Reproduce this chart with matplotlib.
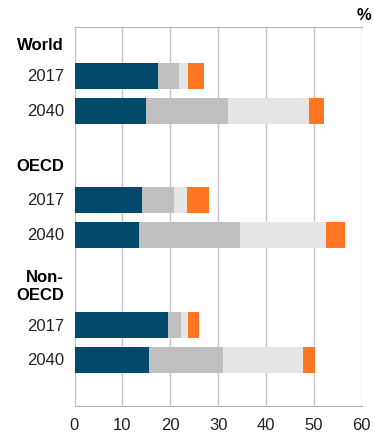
import matplotlib.pyplot as plt

plt.rcParams['font.family'] = ['Liberation Sans', 'DejaVu Sans']

# share by category, in %
regions = ['World', 'OECD', 'Non-\nOECD']
years = ['2017', '2040']
dark = [[17.4, 14.9], [14.1, 13.4], [19.5, 15.5]]
mid = [[4.4, 17.2], [6.7, 21.2], [2.7, 15.5]]
light = [[1.9, 16.9], [2.7, 17.9], [1.5, 16.7]]
orange = [[3.3, 3.1], [4.6, 4.0], [2.3, 2.5]]

colors = ['#00496a', '#bfbfbf', '#e5e5e5', '#ff7521']

fig = plt.figure(figsize=(3.74, 4.39), dpi=100)
ax = fig.add_axes([74.5 / 374, 1 - 407 / 439, 287.2 / 374, 379 / 439])

group_base = [0.0, 3.44, 6.92]
year_step = 0.97
label_off = [-0.86, -0.94, -1.1]

for g, region in enumerate(regions):
    for j, yr in enumerate(years):
        y = group_base[g] + j * year_step
        left = 0
        for series, c in zip([dark, mid, light, orange], colors):
            v = series[g][j]
            ax.barh(y, v, left=left, height=0.72, color=c, zorder=3)
            left += v
        ax.text(-2.2, y, yr, ha='right', va='center', fontsize=12, color='#222222')
    ax.text(-2.2, group_base[g] + label_off[g], region, ha='right', va='center',
            fontsize=12, fontweight='bold', linespacing=1.2, color='black')

ax.set_xlim(0, 60)
ax.set_ylim(9.17, -1.36)
ax.set_xticks(range(0, 61, 10))
ax.set_yticks([])
ax.tick_params(axis='x', length=0, pad=8, labelsize=12, labelcolor='#222222')
ax.grid(axis='x', color='#c4c4cc', linewidth=1, zorder=0)
for side in ['top', 'bottom']:
    ax.spines[side].set_color('#b4b4bc')
ax.spines['left'].set_color('#c4c4cc')
ax.spines['right'].set_visible(False)

fig.text(371 / 374, 1 - 16 / 439, '%', ha='right', va='center',
         fontsize=12, fontweight='bold')

fig.savefig('out.png', dpi=100)
